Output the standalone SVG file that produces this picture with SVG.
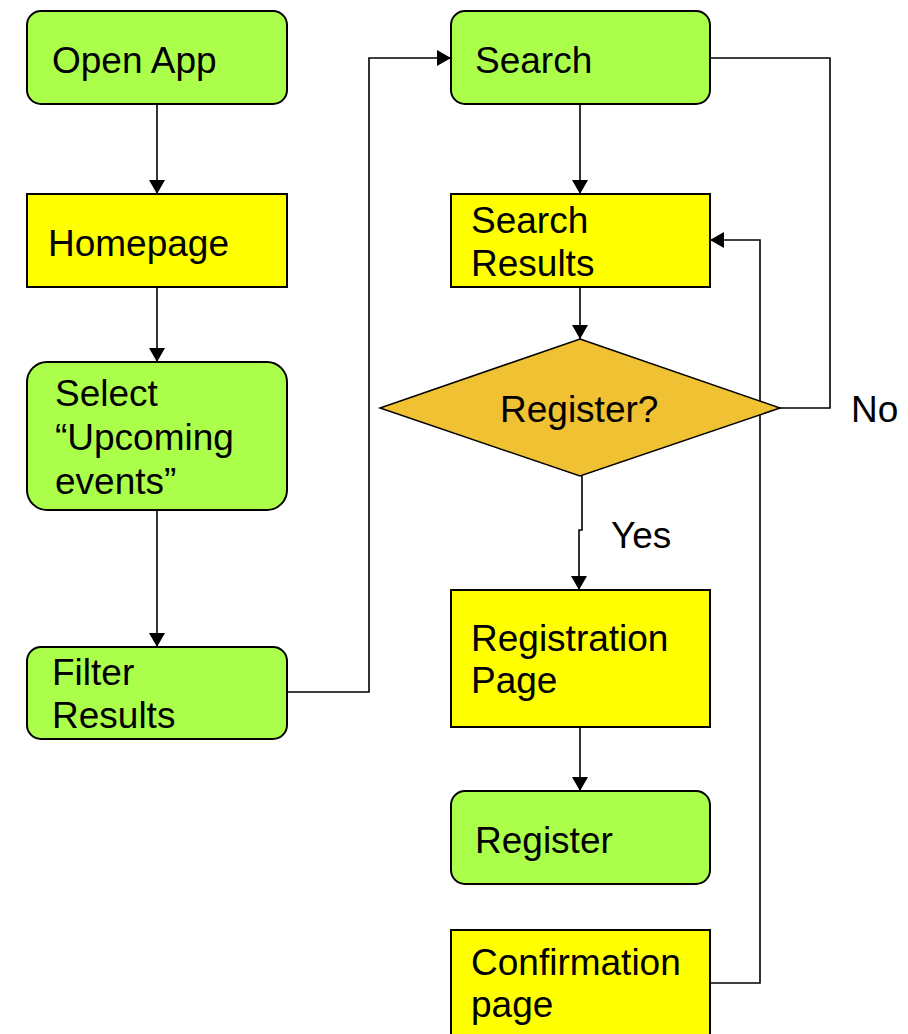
<svg xmlns="http://www.w3.org/2000/svg" width="908" height="1034" viewBox="0 0 908 1034">
  <style>
    .green { fill: #abff4b; stroke: #000; stroke-width: 2; }
    .yellow { fill: #ffff00; stroke: #000; stroke-width: 2; }
    .decision { fill: #f0c132; stroke: #000; stroke-width: 1.5; }
    .label { font-family: "Liberation Sans", Arial, sans-serif; font-size: 37px; fill: #000; }
    .edge { fill: none; stroke: #000; stroke-width: 1.6; }
  </style>
  <defs>
    <marker id="arrow" markerUnits="userSpaceOnUse" markerWidth="14" markerHeight="16" refX="14" refY="8" orient="auto">
      <path d="M0,0 L14,8 L0,16 Z" fill="#000"/>
    </marker>
  </defs>

  <rect width="908" height="1034" fill="#fff"/>

  <!-- connectors -->
  <g id="connectors">
    <path class="edge" d="M157,104 V194" marker-end="url(#arrow)"/>
    <path class="edge" d="M157,287 V362" marker-end="url(#arrow)"/>
    <path class="edge" d="M157,510 V647" marker-end="url(#arrow)"/>
    <path class="edge" d="M287,692 H369 V58 H451" marker-end="url(#arrow)"/>
    <path class="edge" d="M580,104 V194" marker-end="url(#arrow)"/>
    <path class="edge" d="M580,287 V339" marker-end="url(#arrow)"/>
    <path class="edge" d="M780,408 H830 V58 H710"/>
    <path class="edge" d="M582,476 V530 H579 V590" marker-end="url(#arrow)"/>
    <path class="edge" d="M580,727 V791" marker-end="url(#arrow)"/>
    <path class="edge" d="M710,983 H760 V240 H710" marker-end="url(#arrow)"/>
    <text class="label" x="851" y="422">No</text>
    <text class="label" x="611" y="548">Yes</text>
  </g>

  <!-- left column -->
  <g id="open-app">
    <rect class="green" x="27" y="11" width="260" height="93" rx="14"/>
    <text class="label" x="52" y="73">Open App</text>
  </g>
  <g id="homepage">
    <rect class="yellow" x="27" y="194" width="260" height="93"/>
    <text class="label" x="48" y="256">Homepage</text>
  </g>
  <g id="select-upcoming">
    <rect class="green" x="27" y="362" width="260" height="148" rx="20"/>
    <text class="label" x="55" y="406">Select</text>
    <text class="label" x="55" y="450">“Upcoming</text>
    <text class="label" x="55" y="494">events”</text>
  </g>
  <g id="filter-results">
    <rect class="green" x="27" y="647" width="260" height="92" rx="14"/>
    <text class="label" x="52" y="685">Filter</text>
    <text class="label" x="52" y="728">Results</text>
  </g>

  <!-- right column -->
  <g id="search">
    <rect class="green" x="451" y="11" width="259" height="93" rx="14"/>
    <text class="label" x="475" y="73">Search</text>
  </g>
  <g id="search-results">
    <rect class="yellow" x="451" y="194" width="259" height="93"/>
    <text class="label" x="471" y="233">Search</text>
    <text class="label" x="471" y="276">Results</text>
  </g>
  <g id="register-decision">
    <polygon class="decision" points="580,339 780,408 580,476 380,408"/>
    <text class="label" x="500" y="422">Register?</text>
  </g>
  <g id="registration-page">
    <rect class="yellow" x="451" y="590" width="259" height="137"/>
    <text class="label" x="471" y="651">Registration</text>
    <text class="label" x="471" y="693">Page</text>
  </g>
  <g id="register">
    <rect class="green" x="451" y="791" width="259" height="93" rx="14"/>
    <text class="label" x="475" y="853">Register</text>
  </g>
  <g id="confirmation-page">
    <rect class="yellow" x="451" y="930" width="259" height="120"/>
    <text class="label" x="471" y="975">Confirmation</text>
    <text class="label" x="471" y="1017">page</text>
  </g>
</svg>
